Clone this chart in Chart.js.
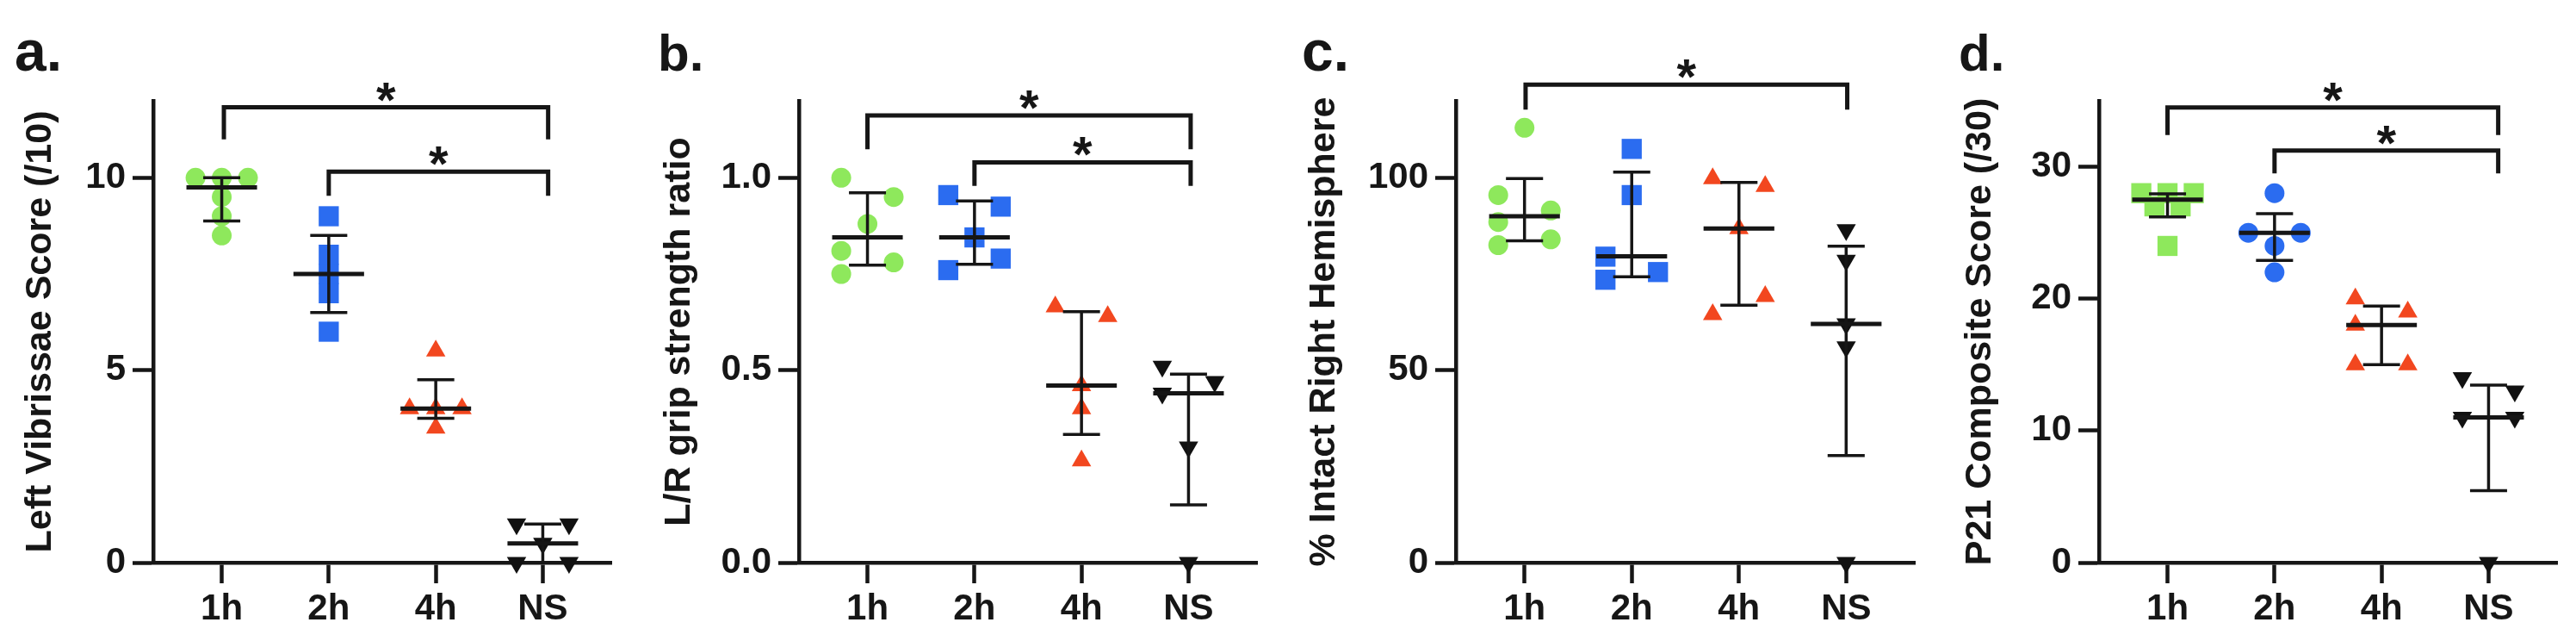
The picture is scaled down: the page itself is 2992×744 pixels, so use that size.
<!DOCTYPE html>
<html>
<head>
<meta charset="utf-8">
<script src="https://cdn.jsdelivr.net/npm/chart.js@4/dist/chart.umd.min.js"></script>
<style>
  html, body { margin: 0; padding: 0; background: #ffffff; }
  #wrap { position: relative; width: 2992px; height: 744px; overflow: hidden; background: #ffffff; }
  .panel { position: absolute; top: 0; }
  canvas { display: block; }
</style>
</head>
<body>
<div id="wrap">
  <div class="panel" style="left:0px"><canvas id="ca" width="750" height="744"></canvas></div>
  <div class="panel" style="left:750px"><canvas id="cb" width="750" height="744"></canvas></div>
  <div class="panel" style="left:1500px"><canvas id="cc" width="750" height="744"></canvas></div>
  <div class="panel" style="left:2250px"><canvas id="cd" width="742" height="744"></canvas></div>
</div>
<script>
// ---------------- DATA ----------------
const categories = ['1h', '2h', '4h', 'NS'];

// Panel a
const aLetter = 'a.';
const aTitle = 'Left Vibrissae Score (/10)';
const aTicks = [0, 5, 10];
const aTickLabels = ['0', '5', '10'];
const aMax = 12;
const a1h = [10, 10, 10, 9.5, 9, 8.5];
const a2h = [9, 8, 7.5, 7, 6];
const a4h = [5.5, 4, 4, 4, 3.5];
const aNS = [1, 1, 0.5, 0, 0];
const a1hSlot = [-1, 0, 1, 0, 0, 0];
const a2hSlot = [0, 0, 0, 0, 0];
const a4hSlot = [0, -1, 0, 1, 0];
const aNSSlot = [-1, 1, 0, -1, 1];
const aMedian = [9.75, 7.5, 4, 0.5];
const aQ1 = [8.875, 6.5, 3.75, 0];
const aQ3 = [10, 8.5, 4.75, 1];
const aSig = [[0.02, 3.05, 11.83, 11.0], [1.0, 3.05, 10.16, 9.53]];

// Panel b
const bLetter = 'b.';
const bTitle = 'L/R grip strength ratio';
const bTicks = [0, 0.5, 1.0];
const bTickLabels = ['0.0', '0.5', '1.0'];
const bMax = 1.2;
const b1h = [1.0, 0.95, 0.88, 0.81, 0.78, 0.75];
const b2h = [0.955, 0.925, 0.845, 0.79, 0.76];
const b4h = [0.665, 0.64, 0.46, 0.40, 0.265];
const bNS = [0.51, 0.47, 0.44, 0.30, 0];
const b1hSlot = [-1, 1, 0, -1, 1, -1];
const b2hSlot = [-1, 1, 0, 1, -1];
const b4hSlot = [-1, 1, 0, 0, 0];
const bNSSlot = [-1, 1, -1, 0, 0];
const bMedian = [0.845, 0.845, 0.46, 0.44];
const bQ1 = [0.773, 0.775, 0.333, 0.15];
const bQ3 = [0.961, 0.94, 0.652, 0.49];
const bSig = [[0.0, 3.02, 1.162, 1.074], [1.0, 3.02, 1.04, 0.979]];

// Panel c
const cLetter = 'c.';
const cTitle = '% Intact Right Hemisphere';
const cTicks = [0, 50, 100];
const cTickLabels = ['0', '50', '100'];
const cMax = 120;
const c1h = [113, 95.5, 91.5, 88.5, 84, 82.5];
const c2h = [107.5, 95.5, 79.5, 75.5, 73.5];
const c4h = [99.8, 97.8, 86.8, 69.2, 64.5];
const cNS = [86.5, 78.5, 62, 56, 0];
const c1hSlot = [0, -1, 1, -1, 1, -1];
const c2hSlot = [0, 0, -1, 1, -1];
const c4hSlot = [-1, 1, 0, 1, -1];
const cNSSlot = [0, 0, 0, 0, 0];
const cMedian = [90, 79.6, 86.8, 62];
const cQ1 = [83.6, 74.3, 66.9, 27.8];
const cQ3 = [99.8, 101.5, 98.8, 82.2];
const cSig = [[0.01, 3.01, 124.2, 117.7]];

// Panel d
const dLetter = 'd.';
const dTitle = 'P21 Composite Score (/30)';
const dTicks = [0, 10, 20, 30];
const dTickLabels = ['0', '10', '20', '30'];
const dMax = 35;
const d1h = [28, 28, 28, 27, 27, 24];
const d2h = [28, 25, 25, 24, 22];
const d4h = [20, 19, 18, 15, 15];
const dNS = [14, 13, 11, 11, 0];
const d1hSlot = [-1, 0, 1, -0.5, 0.5, 0];
const d2hSlot = [0, -1, 1, 0, 0];
const d4hSlot = [-1, 1, -1, -1, 1];
const dNSSlot = [-1, 1, -1, 1, 0];
const dMedian = [27.5, 25, 18, 11];
const dQ1 = [26.2, 22.9, 15, 5.45];
const dQ3 = [27.95, 26.45, 19.45, 13.45];
const dSig = [[0.0, 3.09, 34.5, 32.4], [1.0, 3.09, 31.23, 29.5]];

// ---------------- STYLE ----------------
const INK = '#161616';
const FONT = '"Liberation Sans", Arial, Helvetica, sans-serif';
const SPREAD = 0.245;      // horizontal spacing of scatter slots (category units)
const MED_HALF = 0.33;     // half width of median line
const CAP_HALF = 0.173;    // half width of IQR caps

const green = { style: 'circle', radius: 11.5, color: '#8EE85C', rot: 0 };
const blue = { style: 'rect', radius: 16.5, color: '#2B6CF0', rot: 0 };
const red = { style: 'triangle', radius: 13, color: '#F2471F', rot: 0 };
const black = { style: 'triangle', radius: 13, color: '#111111', rot: 180 };

const panels = [
  { id: 'ca', letter: aLetter, title: aTitle, max: aMax, ticks: aTicks, tickLabels: aTickLabels,
    groups: [a1h, a2h, a4h, aNS], slots: [a1hSlot, a2hSlot, a4hSlot, aNSSlot],
    marks: [green, blue, red, black],
    median: aMedian, q1: aQ1, q3: aQ3, sig: aSig,
    yWidth: 178, padRight: 40, titlePad: 26, letterX: 17, letterSize: 66 },
  { id: 'cb', letter: bLetter, title: bTitle, max: bMax, ticks: bTicks, tickLabels: bTickLabels,
    groups: [b1h, b2h, b4h, bNS], slots: [b1hSlot, b2hSlot, b4hSlot, bNSSlot],
    marks: [green, blue, red, black],
    median: bMedian, q1: bQ1, q3: bQ3, sig: bSig,
    yWidth: 178, padRight: 40, titlePad: 18, letterX: 14, letterSize: 60 },
  { id: 'cc', letter: cLetter, title: cTitle, max: cMax, ticks: cTicks, tickLabels: cTickLabels,
    groups: [c1h, c2h, c4h, cNS], slots: [c1hSlot, c2hSlot, c4hSlot, cNSSlot],
    marks: [green, blue, red, black],
    median: cMedian, q1: cQ1, q3: cQ3, sig: cSig,
    yWidth: 191, padRight: 26, titlePad: 17, letterX: 12, letterSize: 66 },
  { id: 'cd', letter: dLetter, title: dTitle, max: dMax, ticks: dTicks, tickLabels: dTickLabels,
    groups: [d1h, d2h, d4h, dNS], slots: [d1hSlot, d2hSlot, d4hSlot, dNSSlot],
    marks: [{ ...green, style: 'rect', radius: 16.5 }, { ...blue, style: 'circle', radius: 11.5 }, red, black],
    median: dMedian, q1: dQ1, q3: dQ3, sig: dSig,
    yWidth: 188, padRight: 22, titlePad: 29, letterX: 25, letterSize: 60 }
];

function overlayPlugin(p) {
  return {
    id: 'overlay_' + p.id,
    afterDatasetsDraw(chart) {
      const { ctx } = chart;
      const x = chart.scales.x, y = chart.scales.y;
      ctx.save();
      ctx.strokeStyle = INK;
      ctx.lineCap = 'butt';
      // median + interquartile range
      p.median.forEach((m, i) => {
        const cx = x.getPixelForValue(i);
        const mh = x.getPixelForValue(i + MED_HALF) - cx;
        const ch = x.getPixelForValue(i + CAP_HALF) - cx;
        const yq1 = y.getPixelForValue(p.q1[i]);
        const yq3 = y.getPixelForValue(p.q3[i]);
        const ym = y.getPixelForValue(m);
        ctx.lineWidth = 3.5;
        ctx.beginPath();
        ctx.moveTo(cx, yq1); ctx.lineTo(cx, yq3);
        ctx.moveTo(cx - ch, yq1); ctx.lineTo(cx + ch, yq1);
        ctx.moveTo(cx - ch, yq3); ctx.lineTo(cx + ch, yq3);
        ctx.stroke();
        ctx.lineWidth = 5;
        ctx.beginPath();
        ctx.moveTo(cx - mh, ym); ctx.lineTo(cx + mh, ym);
        ctx.stroke();
      });
      // significance brackets
      ctx.lineWidth = 5;
      ctx.lineJoin = 'miter';
      ctx.fillStyle = INK;
      ctx.font = 'bold 58px ' + FONT;
      ctx.textAlign = 'center';
      ctx.textBaseline = 'alphabetic';
      p.sig.forEach(([a, b, yl, yb]) => {
        const x1 = x.getPixelForValue(a), x2 = x.getPixelForValue(b);
        const py = y.getPixelForValue(yl), pb = y.getPixelForValue(yb);
        ctx.beginPath();
        ctx.moveTo(x1, pb); ctx.lineTo(x1, py); ctx.lineTo(x2, py); ctx.lineTo(x2, pb);
        ctx.stroke();
        ctx.fillText('*', (x1 + x2) / 2, py + 11);
      });
      // panel letter
      ctx.textAlign = 'left';
      ctx.font = 'bold ' + p.letterSize + 'px ' + FONT;
      ctx.fillText(p.letter, p.letterX, 82);
      ctx.restore();
    }
  };
}

function makeChart(p) {
  const datasets = p.groups.map((vals, gi) => {
    const mk = p.marks[gi];
    return {
      label: categories[gi],
      data: vals.map((v, j) => ({ x: gi + p.slots[gi][j] * SPREAD, y: v })),
      pointStyle: mk.style,
      pointRadius: mk.radius,
      pointRotation: mk.rot,
      pointBackgroundColor: mk.color,
      pointBorderColor: mk.color,
      pointBorderWidth: 0,
      showLine: false,
      clip: false
    };
  });
  const tickFont = { family: FONT, size: 42, weight: 'bold' };
  return new Chart(document.getElementById(p.id), {
    type: 'scatter',
    data: { datasets },
    options: {
      responsive: false,
      animation: false,
      events: [],
      layout: { padding: { top: 117, right: p.padRight, left: 0, bottom: 0 } },
      plugins: { legend: { display: false }, tooltip: { enabled: false } },
      scales: {
        x: {
          type: 'linear', min: -0.64, max: 3.64,
          afterBuildTicks: (s) => { s.ticks = categories.map((c, i) => ({ value: i })); },
          afterFit: (s) => { s.height = 91; },
          ticks: { callback: (v) => categories[v], font: tickFont, color: INK, padding: 5,
                   autoSkip: false, maxRotation: 0, minRotation: 0 },
          grid: { drawOnChartArea: false, drawTicks: true, tickLength: 24, tickWidth: 4.5, tickColor: INK },
          border: { display: true, width: 4.5, color: INK }
        },
        y: {
          type: 'linear', min: 0, max: p.max,
          afterBuildTicks: (s) => { s.ticks = p.ticks.map((v) => ({ value: v })); },
          afterFit: (s) => { s.width = p.yWidth; },
          ticks: { callback: (v) => p.tickLabels[p.ticks.indexOf(v)], font: tickFont, color: INK, padding: 8 },
          grid: { drawOnChartArea: false, drawTicks: true, tickLength: 24, tickWidth: 4.5, tickColor: INK },
          border: { display: true, width: 4.5, color: INK },
          title: { display: true, text: p.title, color: INK,
                   font: { family: FONT, size: 43, weight: 'bold', lineHeight: 1 },
                   padding: { top: p.titlePad, bottom: 0 } }
        }
      }
    },
    plugins: [overlayPlugin(p)]
  });
}

panels.forEach(makeChart);
</script>
</body>
</html>
